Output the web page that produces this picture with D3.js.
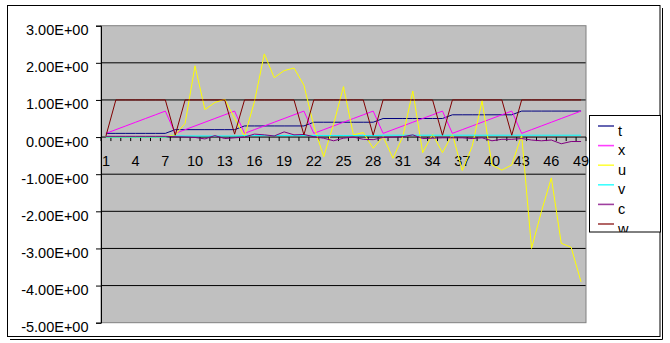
<!DOCTYPE html>
<html><head><meta charset="utf-8">
<script src="https://cdn.jsdelivr.net/npm/d3@7"></script>
<style>body{margin:0;background:#fff}svg{display:block}text{font-family:Arial,"Liberation Sans",sans-serif}</style>
</head><body><svg id="c" width="670" height="343"></svg>
<script>
const categories = [1,2,3,4,5,6,7,8,9,10,11,12,13,14,15,16,17,18,19,20,21,22,23,24,25,26,27,28,29,30,31,32,33,34,35,36,37,38,39,40,41,42,43,44,45,46,47,48,49];
const xTickLabels = ["1","4","7","10","13","16","19","22","25","28","31","34","37","40","43","46","49"];
const yTickValues = [3,2,1,0,-1,-2,-3,-4,-5];
const yTickLabels = ["3.00E+00","2.00E+00","1.00E+00","0.00E+00","-1.00E+00","-2.00E+00","-3.00E+00","-4.00E+00","-5.00E+00"];
const seriesNames = ["t","x","u","v","c","w"];
const seriesColors = ["#000080","#FF00FF","#FFFF00","#00FFFF","#800080","#800000"];
const t = [0.1,0.1,0.1,0.1,0.1,0.1,0.1, 0.2,0.2,0.2,0.2,0.2,0.2,0.2, 0.3,0.3,0.3,0.3,0.3,0.3,0.3, 0.4,0.4,0.4,0.4,0.4,0.4,0.4, 0.5,0.5,0.5,0.5,0.5,0.5,0.5, 0.6,0.6,0.6,0.6,0.6,0.6,0.6, 0.7,0.7,0.7,0.7,0.7,0.7,0.7];
const x = [0.1,0.2,0.3,0.4,0.5,0.6,0.7, 0.1,0.2,0.3,0.4,0.5,0.6,0.7, 0.1,0.2,0.3,0.4,0.5,0.6,0.7, 0.1,0.2,0.3,0.4,0.5,0.6,0.7, 0.1,0.2,0.3,0.4,0.5,0.6,0.7, 0.1,0.2,0.3,0.4,0.5,0.6,0.7, 0.1,0.2,0.3,0.4,0.5,0.6,0.7];
const u = [0,0,0,0,0,0,0, 0.06,0.37,1.92,0.74,0.93,1.02,0.5, 0.02,0.95,2.24,1.6,1.79,1.86,1.4, 0.3,-0.53,0.35,1.36,0.06,0.12,-0.3, 0.01,-0.57,0.02,1.24,-0.42,0.08,-0.42, 0.08,-0.9,-0.25,0.98,-0.75,-0.89,-0.75, 0.05,-3.0,-2.0,-1.1,-2.86,-2.97,-3.9];
const v = [0,0,0,0,0,0,0, 0.03,0.03,0.03,0.03,0.03,0.03,0.03, 0.04,0.04,0.04,0.04,0.04,0.04,0.04, 0.04,0.04,0.04,0.04,0.04,0.04,0.04, 0.05,0.05,0.05,0.05,0.05,0.05,0.05, 0.05,0.05,0.05,0.05,0.05,0.05,0.05, 0.05,0.05,0.05,0.05,0.05,0.05,0.05];
const c = [0.02,0.02,0.02,0.02,0.02,0.02,0.02, 0.01,0,-0.01,-0.05,0.04,-0.04,-0.02, 0.0,0.08,0.06,0.03,0.14,0.06,0.07, 0.01,-0.03,-0.1,-0.03,0.0,-0.06,-0.07, -0.01,0.0,0.01,0.06,-0.04,-0.03,-0.02, -0.02,-0.02,-0.04,-0.02,-0.1,-0.06,-0.06, -0.04,-0.08,-0.1,-0.08,-0.18,-0.12,-0.12];
const w = [0.03,1,1,1,1,1,1, 0.05,1,1,1,1,1,0.08, 1,1,1,1,1,1,0.06, 1,1,1,1,1,1,0.05, 1,1,1,1,1,1,0.05, 1,1,1,1,1,1,0.05, 1,1,1,1,1,1,1];
const seriesValues = [t,x,u,v,c,w];

const svg = d3.select("#c");
const L = 101, R = 586, T = 25.7, B = 322.7;
const xs = d3.scalePoint().domain(categories).range([L, R]).padding(0.5);
const ys = d3.scaleLinear().domain([-5, 3]).range([B, T]);

// chart frame with shadow
svg.append("rect").attr("x",0).attr("y",0).attr("width",670).attr("height",343).attr("fill","#fff");
svg.append("path").attr("d","M10,339.5H662.5V8").attr("fill","none").attr("stroke","#000");
svg.append("rect").attr("x",7.5).attr("y",5.5).attr("width",652.5).attr("height",331).attr("fill","#fff").attr("stroke","#000");

// plot area
svg.append("rect").attr("x",L).attr("y",T).attr("width",R-L).attr("height",B-T).attr("fill","#C0C0C0");
svg.append("g").selectAll("line").data(yTickValues.filter(d => d !== 0 && d !== 3 && d !== -5)).join("line")
  .attr("x1",L).attr("x2",R).attr("y1",d=>ys(d)).attr("y2",d=>ys(d)).attr("stroke","#000");
svg.append("rect").attr("x",L).attr("y",T).attr("width",R-L).attr("height",B-T).attr("fill","none").attr("stroke","#808080");

// y axis
const yAxis = d3.axisLeft(ys).tickValues(yTickValues).tickSize(5).tickPadding(8)
  .tickFormat(d => yTickLabels[yTickValues.indexOf(d)]);
const gy = svg.append("g").attr("transform",`translate(${L},0)`).call(yAxis);
gy.select(".domain").attr("stroke","#000");
gy.selectAll(".tick line").attr("stroke","#000");
gy.selectAll(".tick text").attr("font-size","14.5px").attr("fill","#000").attr("dy","0.62em").attr("x",-12.5);

// x axis at zero
const y0 = ys(0);
const step = xs.step();
svg.append("line").attr("x1",L).attr("x2",R).attr("y1",y0).attr("y2",y0).attr("stroke","#000");
svg.append("g").selectAll("line").data(d3.range(categories.length+1)).join("line")
  .attr("x1",i=>L+i*step).attr("x2",i=>L+i*step).attr("y1",y0).attr("y2",y0+4).attr("stroke","#000");
svg.append("g").selectAll("text").data(xTickLabels).join("text")
  .attr("x",d=>xs(+d)).attr("y",y0+29).attr("text-anchor","middle").attr("font-size","14.5px").attr("fill","#000").text(d=>d);

// series
const line = d3.line().x((d,i)=>xs(categories[i])).y(d=>ys(d));
svg.append("g").selectAll("path").data(seriesValues).join("path")
  .attr("d",d=>line(d)).attr("fill","none").attr("stroke",(d,i)=>seriesColors[i]).attr("stroke-width",1);

// legend
const lg = svg.append("g");
lg.append("clipPath").attr("id","lgclip").append("rect").attr("x",589).attr("y",115).attr("width",73).attr("height",117);
lg.append("rect").attr("x",589.5).attr("y",115.5).attr("width",71).attr("height",116.5).attr("fill","#fff").attr("stroke","#000");
const items = lg.append("g").attr("clip-path","url(#lgclip)").selectAll("g").data(seriesNames).join("g")
  .attr("transform",(d,i)=>`translate(0,${126 + i*19.6})`);
items.append("line").attr("x1",598).attr("x2",614).attr("y1",0).attr("y2",0)
  .attr("stroke",(d,i)=>seriesColors[i]).attr("stroke-width",1.6).attr("opacity",0.75);
items.append("text").attr("x",618).attr("y",9.5).attr("font-size","14.5px").attr("fill","#000").text(d=>d);
</script></body></html>
